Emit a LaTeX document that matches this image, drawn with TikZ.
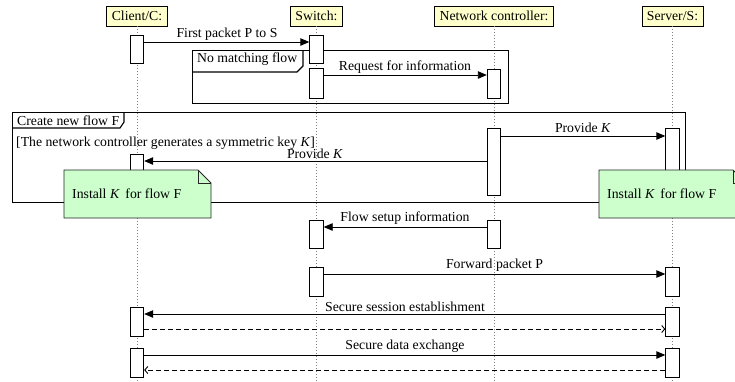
\documentclass[tikz,border=0pt]{standalone}
\usepackage{fontspec}
\setmainfont{Liberation Serif}
\usetikzlibrary{arrows.meta,calc}
\definecolor{hdr}{RGB}{255,255,204}
\definecolor{notegreen}{RGB}{204,255,204}
\newcommand{\actbar}[4]{\node[actbox, minimum height={((#4)-(#3))*1bp}] (#1) at (#2,{((#3)+(#4))/2}) {};}
\newcommand{\dognote}[5]{%
  \filldraw[notefill] (#2,#3) -- ({#4-13},#3) -- (#4,{#3+13}) -- (#4,#5) -- (#2,#5) -- cycle;
  \draw[noteline] ({#4-13},#3) -- ({#4-13},{#3+13}) -- (#4,{#3+13});
  \node[anchor=north west, minimum width={(#4-#2)*1bp}, minimum height={(#5-#3)*1bp}, inner sep=0pt] (#1) at (#2,#3) {};}
\begin{document}
\begin{tikzpicture}[x=1bp,y=-1bp,
  font=\fontsize{13.8}{16}\selectfont,
  hdrbox/.style={draw, fill=hdr, line width=0.8bp, minimum height=20bp, inner xsep=5bp, inner ysep=0pt},
  life/.style={gray, dash pattern=on 1bp off 2bp, line width=0.7bp},
  actbox/.style={draw, fill=white, line width=0.9bp, minimum width=13.5bp, inner sep=0pt},
  msg/.style={line width=0.9bp, -{Triangle[length=9bp,width=7.5bp]}},
  ret/.style={line width=0.9bp, dash pattern=on 5bp off 3bp, -{Straight Barb[length=3bp,width=7bp]}},
  lbl/.style={anchor=base, inner sep=0pt},
  framebox/.style={draw, line width=1.1bp, inner sep=0pt, anchor=north west},
  tab/.style={line width=1.1bp},
  notefill/.style={fill=notegreen, draw=black!85, line width=0.9bp},
  noteline/.style={draw=black!85, line width=0.9bp},
  txt/.style={anchor=base west, inner sep=0pt}]
\useasboundingbox (0,0) rectangle (735,381);
\clip (0,0) rectangle (735,381);

% headers
\node[hdrbox] (hc) at (137,16) {Client/C:};
\node[hdrbox] (hs) at (316.5,16) {Switch:};
\node[hdrbox] (hn) at (494,16) {Network controller:};
\node[hdrbox] (hv) at (672.5,16) {Server/S:};
\coordinate (ec) at (137,381);
\coordinate (es) at (316.5,381);
\coordinate (en) at (494,381);
\coordinate (ev) at (672.5,381);
\draw[life] (hc.south) -- (ec);
\draw[life] (hs.south) -- (es);
\draw[life] (hn.south) -- (en);
\draw[life] (hv.south) -- (ev);

% frames
\node[framebox, minimum width=316bp, minimum height=53bp] (fr2) at (192,50) {};
\draw[tab] (fr2.north west |- 0,72) -- (297,72) -- (303,66) -- (303,50);
\node[txt] (fr2t) at (197,62) {No matching flow};

\node[framebox, minimum width=673bp, minimum height=90bp] (fr1) at (12,112) {};
\draw[tab] (fr1.north west |- 0,128) -- (120,128) -- (124,122) -- (124,112);
\node[txt] (fr1t) at (17,125.5) {Create new flow F};
\node[txt] (guard) at (16,146.5) {[The network controller generates a symmetric key \textit{K}]};

% activations
\actbar{ca1}{137}{35}{63}
\actbar{ca2}{137}{154}{195}
\actbar{ca3}{137}{307}{336}
\actbar{ca4}{137}{348}{377}
\actbar{sa1}{316.5}{35}{63}
\actbar{sa2}{316.5}{68}{98}
\actbar{sa3}{316.5}{220}{248}
\actbar{sa4}{316.5}{267}{296}
\actbar{na1}{494}{69}{98}
\actbar{na2}{494}{128}{195}
\actbar{na3}{494}{220}{248}
\actbar{va1}{672.5}{128}{195}
\actbar{va2}{672.5}{267}{296}
\actbar{va3}{672.5}{307}{336}
\actbar{va4}{672.5}{348}{377}

% messages
\draw[msg] (ca1.east |- 0,42) -- (sa1.west |- 0,42);
\node[lbl] (m1) at (227,37) {First packet P to S};
\draw[msg] (sa2.east |- 0,75) -- (na1.west |- 0,75);
\node[lbl] (m2) at (405,70.5) {Request for information};
\draw[msg] (na2.east |- 0,136) -- (va1.west |- 0,136);
\node[lbl] (m3) at (583,132) {Provide \textit{K}};
\draw[msg] (na2.west |- 0,161) -- (ca2.east |- 0,161);
\node[lbl] (m4) at (315,158.5) {Provide \textit{K}};
\draw[msg] (na3.west |- 0,227) -- (sa3.east |- 0,227);
\node[lbl] (m5) at (405,221.5) {Flow setup information};
\draw[msg] (sa4.east |- 0,274) -- (va2.west |- 0,274);
\node[lbl] (m6) at (494.5,268.5) {Forward packet P};
\draw[msg] (va3.west |- 0,314) -- (ca3.east |- 0,314);
\node[lbl] (m7) at (405,311.5) {Secure session establishment};
\draw[ret] (ca3.east |- 0,329) -- (va3.west |- 0,329);
\draw[msg] (ca4.east |- 0,355) -- (va4.west |- 0,355);
\node[lbl] (m8) at (405,349.5) {Secure data exchange};
\draw[ret] (va4.west |- 0,370) -- (ca4.east |- 0,370);

% notes
\dognote{n1}{64}{170}{211}{218}
\node[txt] (n1t) at (72,198) {Install \textit{K}\, for flow F};
\dognote{n2}{599}{170}{746}{218}
\node[txt] (n2t) at (607,198) {Install \textit{K}\, for flow F};
\end{tikzpicture}
\end{document}
